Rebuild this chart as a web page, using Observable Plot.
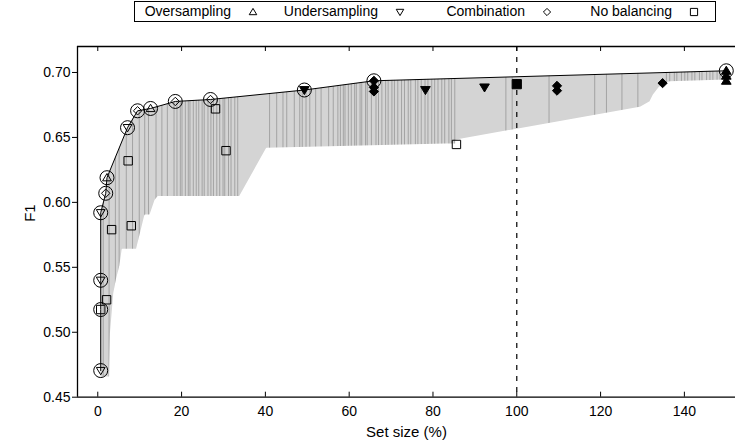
<!DOCTYPE html>
<html><head><meta charset="utf-8">
<script src="https://cdn.jsdelivr.net/npm/d3@7"></script>
<script src="https://cdn.jsdelivr.net/npm/@observablehq/plot@0.6"></script>
<style>
html,body{margin:0;padding:0;background:#fff;}
#wrap{position:relative;width:735px;height:445px;font-family:"Liberation Sans",Arial,sans-serif;}
#chart{position:absolute;left:0;top:0;}
#legend{position:absolute;left:134px;top:1px;width:580px;height:19px;border:1px solid #000;background:#fff;font-size:14px;}
.lg-t{position:absolute;top:1px;white-space:nowrap;text-align:right;}
.lg-s{position:absolute;top:4px;}
</style></head>
<body><div id="wrap"><div id="chart"></div><div id="legend"></div></div>
<script>
// ---- data ----
// Pareto front (circled points), set size (%) and F1
const frontX = [0.7, 0.7, 0.7, 0.7, 1.9, 2.2, 7.1, 9.5, 12.6, 18.5, 26.9, 49.3, 65.9, 150];
const frontY = [0.4705, 0.5175, 0.540, 0.592, 0.607, 0.619, 0.6575, 0.6705, 0.6723, 0.6777, 0.6792, 0.6865, 0.6936, 0.7013];
const frontType = ["U","N","U","U","C","O","U","C","O","C","C","U","C","O"];
const frontFilled = [0,0,0,0,0,0,0,0,0,0,0,1,1,1];
// other configurations
const otherX = [2.1, 3.3, 7.25, 8.0, 28.1, 30.6, 85.6, 65.9, 65.9, 78.2, 92.3, 100, 109.6, 109.6, 134.8, 150, 150];
const otherY = [0.525, 0.579, 0.632, 0.582, 0.672, 0.6398, 0.6446, 0.6885, 0.6854, 0.6865, 0.6885, 0.691, 0.6897, 0.686, 0.6918, 0.6975, 0.6936];
const otherType = ["N","N","N","N","N","N","N","C","C","U","U","N","C","C","C","O","O"];
const otherFilled = [0,0,0,0,0,0,0,1,1,1,1,1,1,1,1,1,1];
// lower envelope of the grey band
const lowX = [0.7, 3.0, 3.2, 4.0, 4.6, 5.4, 6.0, 9.4, 11.4, 12.6, 13.8, 14.5, 34.0, 40.4, 85.6, 85.6, 129.5, 131.9, 132.7, 133.9, 135.1, 136.7, 150];
const lowY = [0.465, 0.465, 0.499, 0.530, 0.540, 0.550, 0.5634, 0.5634, 0.5897, 0.5897, 0.601, 0.604, 0.604, 0.641, 0.6446, 0.6475, 0.6726, 0.6769, 0.6821, 0.6872, 0.691, 0.6923, 0.6936];
// darker vertical lines visible inside the band (set sizes)
const stripeX = [1.3, 2.7, 4.2, 5.1, 6.8, 8.3, 9.9, 11.2, 12.1, 13.9, 15.3, 16.6,
  18.2, 18.9, 19.7, 20.1, 20.9, 21.6, 22.0, 22.8, 23.5, 24.1, 24.9, 25.4, 26.3, 27.0, 27.6, 28.4, 29.1, 29.9, 30.3, 31.2, 31.8, 32.7, 33.4,
  41.0, 42.7, 44.2, 45.1, 46.9, 48.2, 48.8, 49.7, 50.6, 52.0, 53.3, 55.1, 56.2,
  57.3, 57.9, 58.6, 59.0, 59.8, 60.5, 61.3, 61.7, 62.6, 63.0, 63.9, 64.3, 65.3, 66.4, 67.0, 67.8, 68.7, 69.3, 70.2, 70.8, 71.6, 72.5, 73.2, 74.1, 74.7, 75.8, 76.4, 77.2, 78.1, 78.8, 79.7, 80.4, 81.2, 82.1, 82.8, 83.8, 84.4, 85.2,
  97.4, 98.9, 107.7, 118.6, 121.4, 125.1, 128.9,
  135.7, 136.5, 137.6, 138.2, 139.3, 140.1, 140.8, 141.8, 142.5, 143.6, 144.2, 145.3, 146.1, 146.8, 147.8, 148.5, 149.3];
const refX = [100];
const xTicks = [0, 20, 40, 60, 80, 100, 120, 140];
const yTicks = [0.45, 0.50, 0.55, 0.60, 0.65, 0.70];
const xDomain = [-4.84, 152.2];
const yDomain = [0.45, 0.72];
const legendKeys = ["O", "U", "C", "N"];
const legendLabels = ["Oversampling", "Undersampling", "Combination", "No balancing"];
const xLabel = "Set size (%)";
const yLabel = "F1";

// ---- build ----
const front = frontX.map((x, i) => ({x, y: frontY[i], type: frontType[i], filled: !!frontFilled[i]}));
const others = otherX.map((x, i) => ({x, y: otherY[i], type: otherType[i], filled: !!otherFilled[i]}));
const low = lowX.map((x, i) => ({x, y: lowY[i]}));
const allPts = front.concat(others);

const rad = s => Math.sqrt(s / Math.PI);
const shapes = {
  O: {draw(c, size) { const s = rad(size); c.moveTo(0, -s); c.lineTo(s * 1.05, s * 0.75); c.lineTo(-s * 1.05, s * 0.75); c.closePath(); }},
  U: {draw(c, size) { const s = rad(size); c.moveTo(0, s); c.lineTo(s * 1.05, -s * 0.75); c.lineTo(-s * 1.05, -s * 0.75); c.closePath(); }},
  C: {draw(c, size) { const s = rad(size); c.moveTo(0, -s); c.lineTo(s, 0); c.lineTo(0, s); c.lineTo(-s, 0); c.closePath(); }},
  N: {draw(c, size) { const s = rad(size); c.rect(-s, -s, 2 * s, 2 * s); }}
};

const W = 735, H = 445, mL = 77, mR = 0, mT = 46, mB = 48.3;
const plotH = H - mT - mB;
const font = "Liberation Sans, Arial, sans-serif";

const markerMarks = [];
for (const k of legendKeys) {
  markerMarks.push(Plot.dot(allPts.filter(d => d.type === k && !d.filled), {x: "x", y: "y", symbol: shapes[k], r: 4.2, fill: "none", stroke: "black", strokeWidth: 1}));
  markerMarks.push(Plot.dot(allPts.filter(d => d.type === k && d.filled), {x: "x", y: "y", symbol: shapes[k], r: 4.6, fill: "black", stroke: "black", strokeWidth: 1}));
}

const chart = Plot.plot({
  width: W, height: H,
  marginLeft: mL, marginRight: mR, marginTop: mT, marginBottom: mB,
  style: {fontFamily: font, fontSize: "14px", background: "transparent", color: "black", overflow: "visible"},
  x: {domain: xDomain},
  y: {domain: yDomain},
  marks: [
    Plot.areaY(front, {x: "x", y1: yDomain[0], y2: "y", fill: "#d4d4d4", curve: "linear"}),
    Plot.ruleX(stripeX, {x: d => d, stroke: "#a3a3a3", strokeWidth: 1}),
    Plot.areaY(front, {x: "x", y1: "y", y2: yDomain[1], fill: "white", stroke: "white", strokeWidth: 1, curve: "linear"}),
    Plot.areaY(low, {x: "x", y1: yDomain[0], y2: "y", fill: "white", stroke: "white", strokeWidth: 1.5, curve: "linear"}),
    Plot.ruleX(refX, {stroke: "black", strokeDasharray: "5,6", strokeWidth: 1.2}),
    Plot.line(front, {x: "x", y: "y", stroke: "black", strokeWidth: 1}),
    Plot.dot(front, {x: "x", y: "y", r: 7, fill: "none", stroke: "black", strokeWidth: 1}),
    ...markerMarks,
    Plot.ruleY([yDomain[0]], {stroke: "black", strokeWidth: 1.3}),
    Plot.ruleY([yDomain[1]], {stroke: "black", strokeWidth: 1.3}),
    Plot.ruleX([xDomain[0]], {stroke: "black", strokeWidth: 1.3}),
    Plot.tickX(xTicks, {x: d => d, insetTop: plotH - 5, stroke: "black"}),
    Plot.tickX(xTicks, {x: d => d, insetBottom: plotH - 5, stroke: "black"}),
    Plot.axisY({ticks: yTicks, tickFormat: d3.format(".2f"), tickSize: 5, tickPadding: 2, fontSize: 14, label: null}),
    Plot.axisX({ticks: xTicks, tickFormat: d3.format("d"), tickSize: 0, tickPadding: 9, fontSize: 14, label: null}),
    Plot.text([xLabel], {text: d => d, frameAnchor: "bottom", dy: 39.5, fontSize: 15, fill: "black"}),
    Plot.text([yLabel], {text: d => d, frameAnchor: "left", dx: -47, rotate: -90, fontSize: 15, fill: "black"})
  ]
});
document.getElementById("chart").appendChild(chart);

// ---- legend ----
const lg = document.getElementById("legend");
const lgLeft = 134, lgW = 580;
legendKeys.forEach((k, i) => {
  const cx = 252 - lgLeft + i * 147;
  const t = document.createElement("div");
  t.className = "lg-t";
  t.textContent = legendLabels[i];
  t.style.right = (lgW - (cx - 22)) + "px";
  lg.appendChild(t);
  const p = d3.path();
  shapes[k].draw(p, Math.PI * 3.6 * 3.6);
  const svg = d3.create("svg").attr("class", "lg-s").attr("width", 12).attr("height", 12)
    .style("left", (cx - 6) + "px").style("overflow", "visible");
  svg.append("path").attr("transform", "translate(6,6)").attr("d", p.toString())
    .attr("fill", "none").attr("stroke", "black").attr("stroke-width", 1);
  lg.appendChild(svg.node());
});
</script>
</body></html>
